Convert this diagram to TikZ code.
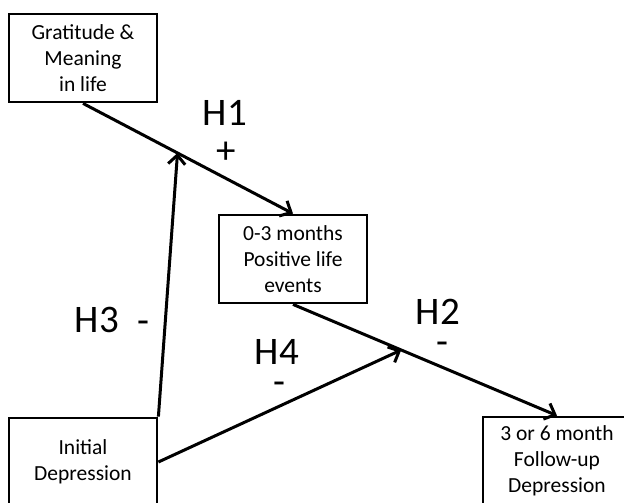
\documentclass[tikz,border=0pt]{standalone}
\usepackage{fontspec}
\setmainfont{Carlito}
\usetikzlibrary{arrows.meta}
\tikzstyle{box} = [rectangle, minimum width=148pt, minimum height=88pt, align=center, draw=black, line width=2.8pt, font=\fontsize{21.5}{26}\selectfont]
\tikzstyle{hyp} = [font=\fontsize{39}{42}\selectfont, text height=25pt, text depth=0pt, inner sep=0pt]
\tikzstyle{arrow} = [line width=3pt, ->, >={Straight Barb[length=9pt,width=17pt]}]

\begin{document}
\begin{tikzpicture}[x=1pt, y=-1pt, node distance=210pt]
\clip (0,0) rectangle (624,503);
\node (grat) [box] at (83,58) {Gratitude \&\\Meaning\\in life};
\node (pos) [box, right of=grat, yshift=-201pt] {0-3 months\\Positive life\\events};
\node (init) [box, below of=grat, yshift=-194pt] {Initial\\Depression};
\node (fol) [box, right of=pos, xshift=54pt, yshift=-202pt] {3 or 6 month\\Follow-up\\Depression};

\node (h1) [hyp] at (225,113) {H1};
\node (h1sign) [hyp] at (226,151) {+};
\node (h2) [hyp] at (438,312) {H2};
\node (h2sign) [hyp] at (442,342) {-};
\node (h3) [hyp] at (97,320) {H3};
\node (h3sign) [hyp] at (143,321) {-};
\node (h4) [hyp] at (277,352) {H4};
\node (h4sign) [hyp] at (279,382) {-};

\draw [arrow] (grat.south) -- coordinate[pos=0.45] (h1mid) (pos.north);
\draw [arrow] (pos.south) -- coordinate[pos=0.41] (h2mid) (fol.north);
\draw [arrow] (init.north east) -- (h1mid);
\draw [arrow] (init.east) -- (h2mid);
\end{tikzpicture}
\end{document}
